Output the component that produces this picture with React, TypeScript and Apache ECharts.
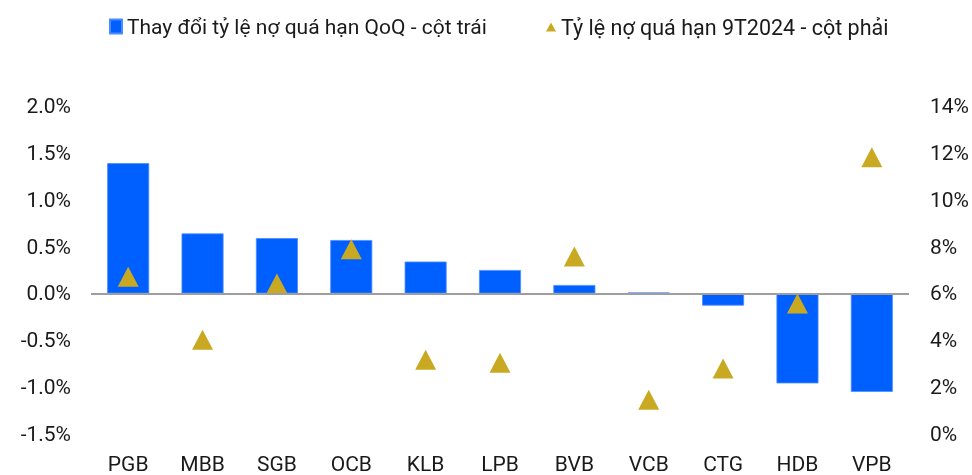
import React, { useEffect, useRef } from "react";
import * as echarts from "echarts";

const categories = ["PGB", "MBB", "SGB", "OCB", "KLB", "LPB", "BVB", "VCB", "CTG", "HDB", "VPB"];
const qoqChange = [1.39, 0.64, 0.59, 0.57, 0.34, 0.25, 0.09, 0.01, -0.13, -0.96, -1.05];
const nplRatio = [6.71, 4.02, 6.42, 7.89, 3.17, 3.04, 7.58, 1.46, 2.8, 5.57, 11.81];
const barName = "Thay đổi tỷ lệ nợ quá hạn QoQ - cột trái";
const triName = "Tỷ lệ nợ quá hạn 9T2024 - cột phải";

const FONT = "Roboto";
const TEXT = "#1a1a1a";
const FS = 21;

export default function App() {
  const ref = useRef<HTMLDivElement>(null);
  useEffect(() => {
    if (!ref.current) return;
    const chart = echarts.init(ref.current, null, { renderer: "svg" });
    chart.setOption({
      animation: false,
      textStyle: { fontFamily: FONT },
      legend: [
        {
          data: [barName],
          left: 104,
          top: 11,
          icon: "rect",
          itemWidth: 12,
          itemHeight: 14,
          textStyle: { fontFamily: FONT, fontSize: FS, color: TEXT },
        },
        {
          data: [triName],
          left: 541,
          top: 11,
          icon: "triangle",
          itemWidth: 10,
          itemHeight: 9,
          textStyle: { fontFamily: FONT, fontSize: 21.5, color: TEXT },
        },
      ],
      grid: { left: 91, right: 62, top: 106, bottom: 41 },
      xAxis: {
        type: "category",
        data: categories,
        axisLine: { show: false },
        axisTick: { show: false },
        axisLabel: { fontFamily: FONT, fontSize: FS, color: TEXT, margin: 19 },
      },
      yAxis: [
        {
          type: "value",
          min: -1.5,
          max: 2.0,
          interval: 0.5,
          splitLine: { show: false },
          axisLine: { show: false },
          axisTick: { show: false },
          axisLabel: {
            fontFamily: FONT,
            fontSize: FS,
            color: TEXT,
            margin: 20,
            formatter: (v: number) => v.toFixed(1) + "%",
          },
        },
        {
          type: "value",
          min: 0,
          max: 14,
          interval: 2,
          splitLine: { show: false },
          axisLine: { show: false },
          axisTick: { show: false },
          axisLabel: {
            fontFamily: FONT,
            fontSize: FS,
            color: TEXT,
            margin: 21,
            formatter: (v: number) => v + "%",
          },
        },
      ],
      series: [
        {
          name: barName,
          type: "bar",
          yAxisIndex: 0,
          data: qoqChange,
          barWidth: 42,
          itemStyle: { color: "#0060FF", borderColor: "#4A8BFF", borderWidth: 0.8 },
          markLine: {
            silent: true,
            symbol: "none",
            label: { show: false },
            lineStyle: { color: "#9e9e9e", width: 2, type: "solid" },
            data: [{ yAxis: 0 }],
          },
          z: 2,
        },
        {
          name: triName,
          type: "scatter",
          yAxisIndex: 1,
          data: nplRatio,
          symbol: "triangle",
          symbolSize: [21, 20],
          itemStyle: { color: "#C9A922", opacity: 1 },
          z: 3,
        },
      ],
    });
    return () => chart.dispose();
  }, []);
  return (
    <div
      ref={ref}
      style={{ position: "fixed", left: 0, top: 0, width: 972, height: 475 }}
    />
  );
}
